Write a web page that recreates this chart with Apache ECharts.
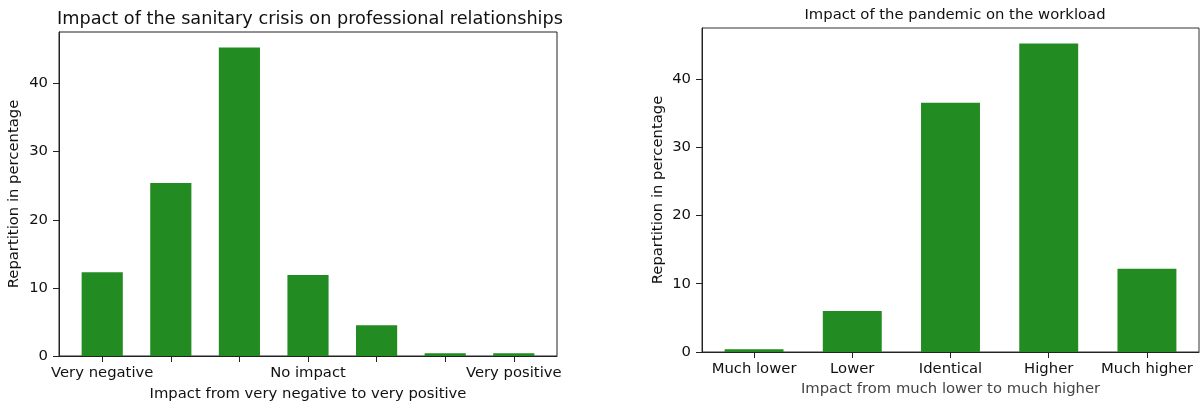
<!DOCTYPE html>
<html>
<head>
<meta charset="utf-8">
<script src="https://cdn.jsdelivr.net/npm/echarts@6/dist/echarts.min.js"></script>
<style>
  html, body { margin: 0; padding: 0; background: #fff; }
  #chart { width: 1201px; height: 403px; }
</style>
</head>
<body>
<div id="chart"></div>
<script>
// Survey: impact on professional relationships (7-point scale)
const relCategories = ['Very negative', '', '', 'No impact', '', '', 'Very positive'];
const relValues = [12.3, 25.4, 45.3, 11.9, 4.5, 0.4, 0.4];

// Survey: impact on the workload (5-point scale)
const workCategories = ['Much lower', 'Lower', 'Identical', 'Higher', 'Much higher'];
const workValues = [0.4, 6.0, 36.5, 45.2, 12.2];

const yTicks = [0, 10, 20, 30, 40];

const BAR_COLOR = '#228b22';
const FONT = 'DejaVu Sans';
const BAR_HALF = 0.3;
const FS = 14.8;

function indices(n) { return Array.from({ length: n }, (_, i) => i); }

// Bars drawn as rectangles of 0.6 data units through the axis scales
function barRenderer(params, api) {
  const x = api.value(0), y = api.value(1);
  const p0 = api.coord([x - BAR_HALF, y]);
  const p1 = api.coord([x + BAR_HALF, 0]);
  return {
    type: 'rect',
    shape: { x: p0[0], y: p0[1], width: p1[0] - p0[0], height: p1[1] - p0[1] },
    style: { fill: BAR_COLOR }
  };
}

function xAxisFor(gridIndex, cats, nameText, nameColor, nameGap, labelMargin) {
  const n = cats.length;
  const pad = (n - 1 + 2 * BAR_HALF) * 0.05 + BAR_HALF;
  return {
    type: 'value', gridIndex,
    min: -pad, max: n - 1 + pad,
    splitLine: { show: false },
    axisLine: { show: true, onZero: false, lineStyle: { color: '#222', width: 1 } },
    axisTick: { show: true, inside: false, length: 6, customValues: indices(n), lineStyle: { color: '#222' } },
    axisLabel: {
      customValues: indices(n), margin: labelMargin,
      formatter: v => cats[Math.round(v)],
      color: '#111', fontFamily: FONT, fontSize: FS
    },
    name: nameText, nameLocation: 'middle', nameGap,
    nameTextStyle: { color: nameColor, fontFamily: FONT, fontSize: FS }
  };
}

function yAxisFor(gridIndex, values, nameText, nameGap) {
  return {
    type: 'value', gridIndex,
    min: 0, max: Math.max(...values) * 1.05,
    splitLine: { show: false },
    axisLine: { show: true, onZero: false, lineStyle: { color: '#222', width: 1 } },
    axisTick: { show: true, inside: false, length: 6, customValues: yTicks, lineStyle: { color: '#222' } },
    axisLabel: { customValues: yTicks, margin: 11, color: '#111', fontFamily: FONT, fontSize: FS },
    name: nameText, nameLocation: 'middle', nameGap,
    nameTextStyle: { color: '#111', fontFamily: FONT, fontSize: FS }
  };
}

const chart = echarts.init(document.getElementById('chart'), null, { renderer: 'canvas' });

chart.setOption({
  animation: false,
  backgroundColor: '#fff',
  title: [
    {
      text: 'Impact of the sanitary crisis on professional relationships',
      left: 305, top: 5, textAlign: 'center',
      textStyle: { fontFamily: FONT, fontSize: 17.7, fontWeight: 'normal', color: '#111' }
    },
    {
      text: 'Impact of the pandemic on the workload',
      left: 950, top: 3, textAlign: 'center',
      textStyle: { fontFamily: FONT, fontSize: 14.8, fontWeight: 'normal', color: '#111' }
    }
  ],
  grid: [
    { left: 59, top: 32, width: 498, height: 324, outerBoundsMode: 'none', containLabel: false,
      show: true, borderColor: '#222', borderWidth: 1, backgroundColor: 'transparent' },
    { left: 702, top: 28, width: 497, height: 324, outerBoundsMode: 'none', containLabel: false,
      show: true, borderColor: '#333', borderWidth: 1, backgroundColor: 'transparent' }
  ],
  xAxis: [
    xAxisFor(0, relCategories, 'Impact from very negative to very positive', '#111', 31, 10),
    xAxisFor(1, workCategories, 'Impact from much lower to much higher', '#444', 29, 10)
  ],
  yAxis: [
    yAxisFor(0, relValues, 'Repartition in percentage', 37),
    yAxisFor(1, workValues, 'Repartition in percentage', 36)
  ],
  series: [
    {
      type: 'custom', xAxisIndex: 0, yAxisIndex: 0,
      renderItem: barRenderer,
      data: relValues.map((v, i) => [i, v])
    },
    {
      type: 'custom', xAxisIndex: 1, yAxisIndex: 1,
      renderItem: barRenderer,
      data: workValues.map((v, i) => [i, v])
    }
  ]
});
</script>
</body>
</html>
